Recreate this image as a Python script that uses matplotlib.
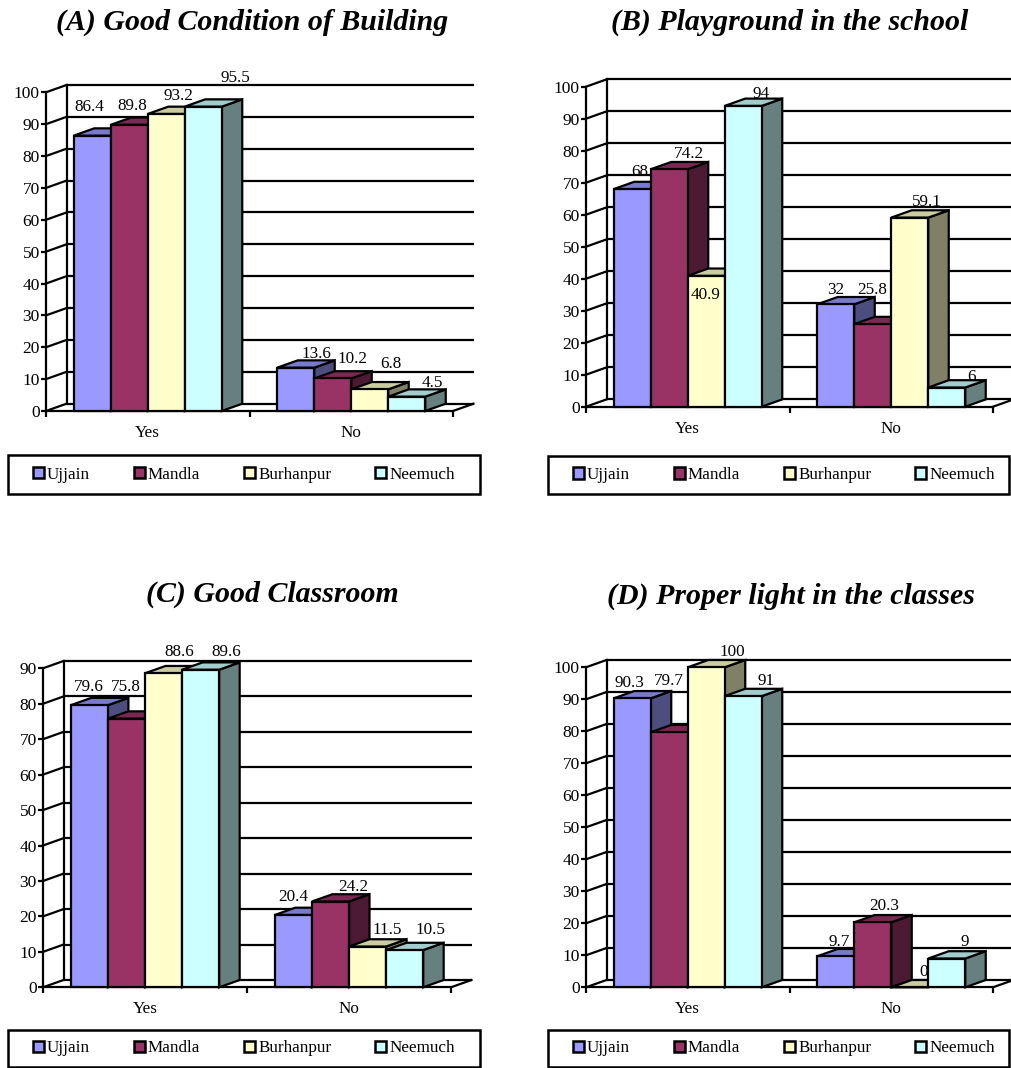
import matplotlib
matplotlib.use("Agg")
import matplotlib.pyplot as plt
from matplotlib.patches import Polygon, Rectangle, Patch
from matplotlib.colors import to_rgb

plt.rcParams['font.family'] = ['Liberation Serif', 'DejaVu Serif']

# ---- data -------------------------------------------------------------
categories = ["Yes", "No"]
districts = ["Ujjain", "Mandla", "Burhanpur", "Neemuch"]

building_yes = [86.4, 89.8, 93.2, 95.5]
building_no = [13.6, 10.2, 6.8, 4.5]

playground_yes = [68, 74.2, 40.9, 94]
playground_no = [32, 25.8, 59.1, 6]

classroom_yes = [79.6, 75.8, 88.6, 89.6]
classroom_no = [20.4, 24.2, 11.5, 10.5]

light_yes = [90.3, 79.7, 100, 91]
light_no = [9.7, 20.3, 0, 9]

titles = ["(A) Good Condition of Building", "(B) Playground in the school",
          "(C) Good Classroom", "(D) Proper light in the classes"]
axis_max = [100, 100, 90, 100]

front_colors = ['#9999FF', '#993366', '#FFFFCC', '#CCFFFF']

# ---- layout (pixels) --------------------------------------------------
W, H = 1011, 1068
DPI = 100
PT = 72.0 / DPI                      # points per pixel
DEPTH_X, DEPTH_Y = 20.5, 7.3         # oblique depth of the 3-D box, px
GAP = 1.5                            # gap width relative to a bar

# (front-left x, front-right x, y of zero, y of top tick)
panel_boxes = [(46, 453, 411.0, 92.3),
               (586, 993, 406.7, 86.7),
               (43, 451, 987.3, 668.3),
               (586, 993, 987.3, 667.3)]
title_pos = [(252, 22), (790, 22), (272, 594), (791, 596)]
legend_boxes = [(8, 480, 455, 494), (548, 1009, 456, 494),
                (8, 480, 1030, 1067), (548, 1009, 1030, 1067)]
legend_start = [33, 573, 33, 573]

# value-label placement: (dx, dy) px from the centre of each bar's front top
label_shift = [
    [[(-2.5, 30), (3, 20.5), (12.5, 19.7), (32, 30.7)],
     [(21, 15.6), (20, 21.5), (21, 27), (26, 15)]],
    [[(7, 18.4), (20, 16.6), (-0.5, -17.5), (17.5, 13.2)],
     [(0, 16), (-1, 35.8), (17.5, 17), (25, 11.8)]],
    [[(-1, 20), (-1, 33.7), (16, 22.6), (26, 19)],
     [(0, 20), (23, 16.5), (20, 18), (26, 21.8)]],
    [[(-3, 16.6), (0, 53), (26, 16.6), (22.5, 16.8)],
     [(3, 16.3), (11, 18.3), (13.5, 17.3), (18, 18.5)]],
]

LW = 1.6
TICK_FS = 12.5
CAT_FS = 12.3
VAL_FS = 12.3
LEG_FS = 12.3
TITLE_FS = 21.5


def shade(c, f):
    r, g, b = to_rgb(c)
    return (r * f, g * f, b * f)


fig = plt.figure(figsize=(W / DPI, H / DPI), dpi=DPI)


def draw_panel(idx, yes, no):
    xl, xr, y0, yt = panel_boxes[idx]
    ymax = axis_max[idx]
    ax = fig.add_axes([xl / W, 1 - y0 / H, (xr - xl) / W, (y0 - yt) / H])
    ax.set_xlim(0, 2)
    ax.set_ylim(0, ymax)
    ax.patch.set_visible(False)

    ux = (xr - xl) / 2.0
    uy = (y0 - yt) / ymax
    ddx = DEPTH_X / ux
    ddy = DEPTH_Y / uy

    # back wall grid, depth connectors and floor edges
    ticks = list(range(0, ymax + 1, 10))
    for v in ticks:
        ax.plot([ddx, 2 + ddx], [v + ddy, v + ddy], color='black', lw=LW,
                zorder=1, clip_on=False, solid_capstyle='butt')
        ax.plot([0, ddx], [v, v + ddy], color='black', lw=LW, zorder=1,
                clip_on=False)
    ax.plot([ddx, ddx], [ddy, ymax + ddy], color='black', lw=LW, zorder=1,
            clip_on=False)
    ax.plot([2, 2 + ddx], [0, ddy], color='black', lw=LW, zorder=1,
            clip_on=False)

    # spines and ticks
    for s in ['top', 'right']:
        ax.spines[s].set_visible(False)
    for s in ['left', 'bottom']:
        ax.spines[s].set_linewidth(LW)
        ax.spines[s].set_zorder(2)
    ax.set_yticks(ticks)
    ax.tick_params(axis='y', direction='out', length=3.6, width=LW,
                   pad=0.8, labelsize=TICK_FS)
    ax.set_xticks([0, 1, 2])
    ax.set_xticklabels(['', '', ''])
    ax.set_xticks([0.5, 1.5], minor=True)
    ax.set_xticklabels(categories, minor=True)
    ax.tick_params(axis='x', which='major', direction='out', length=4.3,
                   width=LW)
    ax.tick_params(axis='x', which='minor', length=0, pad=10.0,
                   labelsize=CAT_FS)

    bar_w = 1.0 / (len(districts) + GAP)
    z = 3
    for ci, vals in enumerate([yes, no]):
        for si, v in enumerate(vals):
            x0 = ci + GAP * bar_w / 2 + si * bar_w
            x1 = x0 + bar_w
            fc = front_colors[si]
            side = Polygon([(x1, 0), (x1 + ddx, ddy), (x1 + ddx, v + ddy),
                            (x1, v)], closed=True, fc=shade(fc, 0.5),
                           ec='black', lw=LW, zorder=z, clip_on=False,
                           joinstyle='miter')
            top = Polygon([(x0, v), (x1, v), (x1 + ddx, v + ddy),
                           (x0 + ddx, v + ddy)], closed=True,
                          fc=shade(fc, 0.8), ec='black', lw=LW, zorder=z,
                          clip_on=False, joinstyle='miter')
            front = Polygon([(x0, 0), (x1, 0), (x1, v), (x0, v)],
                            closed=True, fc=fc, ec='black', lw=LW,
                            zorder=z + 0.1, clip_on=False, joinstyle='miter')
            for p in (side, top, front):
                ax.add_patch(p)
            sx, sy = label_shift[idx][ci][si]
            ax.annotate(f"{v:g}", xy=((x0 + x1) / 2, v),
                        xytext=(sx * PT, (sy - 5.6) * PT),
                        textcoords='offset points',
                        ha='center', va='baseline', fontsize=VAL_FS,
                        zorder=z + 0.5, annotation_clip=False)
            z += 1

    tx, ty = title_pos[idx]
    fig.text(tx / W, 1 - ty / H, titles[idx], ha='center', va='center',
             fontsize=TITLE_FS, fontweight='bold', fontstyle='italic')

    # legend
    bx0, bx1, by0, by1 = legend_boxes[idx]
    fig.patches.append(Rectangle((bx0 / W, 1 - by1 / H), (bx1 - bx0) / W,
                                 (by1 - by0) / H, transform=fig.transFigure,
                                 fill=False, ec='black', lw=1.8))
    handles = [Patch(fc=c, ec='black', lw=1.8) for c in front_colors]
    fig.legend(handles, districts, loc='center left',
               bbox_to_anchor=(legend_start[idx] / W, 1 - (by0 + by1) / 2 / H),
               ncol=4, frameon=False, borderpad=0, borderaxespad=0,
               handlelength=0.64, handleheight=0.64, handletextpad=0.18,
               columnspacing=2.57, fontsize=LEG_FS)


draw_panel(0, building_yes, building_no)
draw_panel(1, playground_yes, playground_no)
draw_panel(2, classroom_yes, classroom_no)
draw_panel(3, light_yes, light_no)

fig.savefig("out.png", dpi=DPI)
